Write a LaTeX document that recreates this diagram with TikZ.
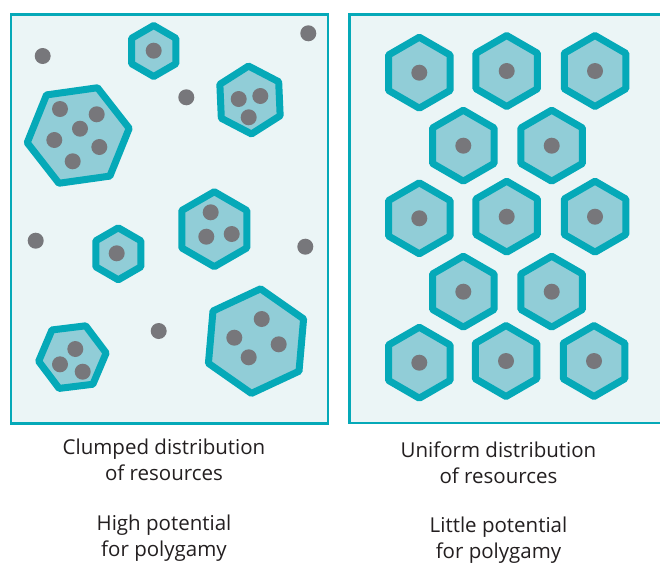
\documentclass[tikz,border=0pt]{standalone}
\usepackage{fontspec}
\setmainfont{Open Sans}
\definecolor{teal}{HTML}{05A9B8}
\definecolor{panelfill}{HTML}{EBF5F6}
\definecolor{hexfill}{HTML}{91CDD7}
\definecolor{dotc}{HTML}{77777B}
\definecolor{txt}{HTML}{231F20}
\tikzset{
  panel/.style={draw=teal, fill=panelfill, line width=2.5pt},
  hexa/.style={draw=teal, fill=hexfill, line width=7pt, line join=round},
  res/.style={fill=dotc},
  lbl/.style={text=txt, font=\fontsize{20.5}{26}\selectfont, align=center, inner sep=0pt}
}
% \hx{cx}{cy}{R}{a0}
\newcommand{\hx}[4]{\draw[hexa] ($(#1,#2)+(#4:#3 and -#3)$)
  -- ($(#1,#2)+(#4+60:#3 and -#3)$) -- ($(#1,#2)+(#4+120:#3 and -#3)$)
  -- ($(#1,#2)+(#4+180:#3 and -#3)$) -- ($(#1,#2)+(#4+240:#3 and -#3)$)
  -- ($(#1,#2)+(#4+300:#3 and -#3)$) -- cycle;}
\newcommand{\rs}[2]{\fill[res] (#1,#2) circle[radius=8pt];}
\usetikzlibrary{calc}
\begin{document}
\begin{tikzpicture}[x=1pt,y=-1pt]
\useasboundingbox (0,0) rectangle (660,563);
\fill[white] (0,0) rectangle (660,563);
% panels
\draw[panel] (11,14.5) rectangle (328,423.5);
\draw[panel] (349.5,14.5) rectangle (670,423);
% left panel hexagons
\hx{153.7}{51}{25.5}{90}
\rs{153.7}{50.7}
\hx{250}{100}{34}{92.5}
\rs{238.7}{99}\rs{260.3}{96}\rs{248.7}{117.3}
\hx{78.2}{135.5}{51.5}{8}
\rs{60}{109}\rs{96.7}{114.3}\rs{80}{128.7}\rs{54.3}{140}\rs{99.3}{147}\rs{72.7}{161.3}
\hx{214.3}{229.2}{37.5}{90}
\rs{210.7}{212.3}\rs{206.3}{236.7}\rs{231.7}{234}
\hx{118.3}{253.8}{26}{90}
\rs{116.7}{253.3}
\hx{72.4}{357.1}{34}{7}
\rs{75.3}{349}\rs{60}{364.3}\rs{82.7}{371.7}
\hx{256}{341.1}{52.5}{85}
\rs{261.7}{319}\rs{234.3}{337.7}\rs{278.7}{344.3}\rs{248.7}{357.3}
% loose resources
\rs{42.7}{56}\rs{308.3}{33.3}\rs{186.3}{97.3}\rs{35.7}{240.7}\rs{305.3}{246.7}\rs{158.7}{331}
% right panel hexagons
\foreach \x/\y in {419.3/72.7, 506.7/71, 595/71,
                   463.3/145.7, 551.7/145.7,
                   419.3/218.3, 506.7/216.7, 595/216.7,
                   463.3/291.7, 551.7/291.7,
                   419.3/362.7, 506/361, 594/361}{
  \hx{\x}{\y}{35.5}{90}
  \rs{\x}{\y}
}
% labels
\node[lbl] (l1) at (164,460) {Clumped distribution\\of resources};
\node[lbl] (l2) at (164,538) {High potential\\for polygamy};
\node[lbl] (r1) at (498.5,463) {Uniform distribution\\of resources};
\node[lbl] (r2) at (498.5,540) {Little potential\\for polygamy};
\end{tikzpicture}
\end{document}
